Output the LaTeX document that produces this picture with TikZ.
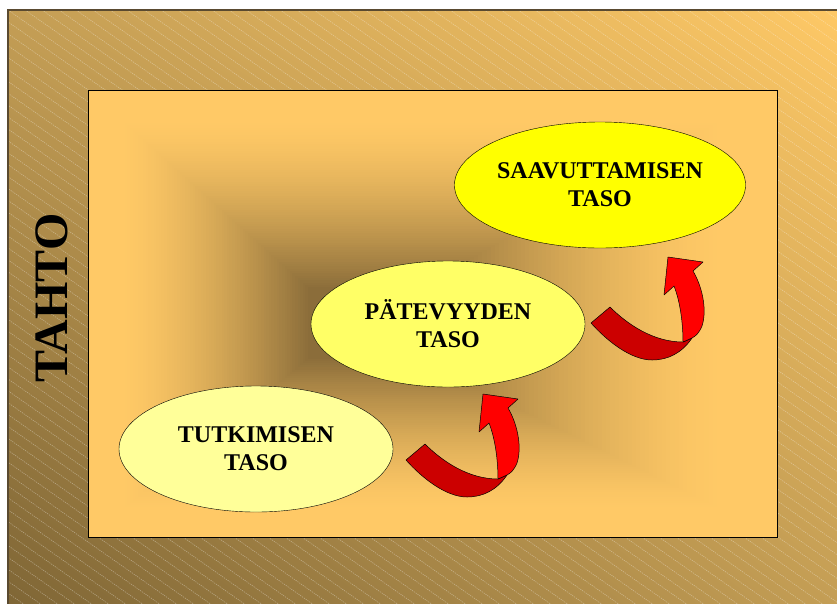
\documentclass[tikz,border=0pt]{standalone}
\usepackage{fontspec}
\setmainfont{Liberation Serif}
\usepackage{xcolor}
\usepackage{tikz}
\usetikzlibrary{shapes.geometric,shadings}

\definecolor{barkdark}{HTML}{7E6535}
\definecolor{barkmid}{HTML}{C49E55}
\definecolor{sand}{HTML}{FFC966}
\definecolor{core}{HTML}{8B6D3A}
\definecolor{framebrown}{HTML}{5A4A30}
\definecolor{ribbon}{HTML}{CC0000}
\definecolor{ribbonhi}{HTML}{FF0000}
\definecolor{levelA}{HTML}{FFFF99}
\definecolor{levelB}{HTML}{FFFF66}
\definecolor{levelC}{HTML}{FFFF00}

\tikzset{
  level/.style={ellipse, draw, thin, minimum width=274pt, minimum height=126pt,
    inner sep=0pt, align=center, font=\fontsize{24}{28}\selectfont\bfseries},
  hatch/.style={white, opacity=0.35, line width=0.6pt, dash pattern=on 1.2pt off 1pt},
  ribbonback/.style={fill=ribbon, draw=black, line width=0.5pt, line join=round},
  ribbonfront/.style={fill=ribbonhi, draw=black, line width=0.5pt, line join=round}
}

\begin{document}
\begin{tikzpicture}[x=1pt,y=-1pt,>=latex]
  \useasboundingbox (0,0) rectangle (837,603);
  \clip (0,0) rectangle (837,603);
  \fill[white] (0,0) rectangle (837,603);
% outer frame with the stripes
  \shade[lower left=barkdark, upper right=sand, upper left=barkmid, lower right=barkmid]
    (8,10) rectangle (850,615);
  \begin{scope}
    \clip (8,10) rectangle (850,615);
    \foreach \k in {-55,...,50} { \draw[hatch] (8+\k*17,10) -- ++(900,630); }
  \end{scope}
  \draw[framebrown, line width=1.2pt] (8,10) rectangle (850,615);
% inner panel, shaded towards a point left of the middle
  \foreach \i in {0,...,100} {
    \pgfmathsetmacro\ratio{\i/100}
    \pgfmathsetmacro\mix{100*(1-pow(min(1,max(0.001,(\ratio-0.12)/0.72)),1.5))}
    \fill[sand!\mix!core] ({350-262*(1-\ratio)},{325-235*(1-\ratio)})
      rectangle ({350+427*(1-\ratio)},{325+212*(1-\ratio)});
  }
  \draw[line width=1pt] (88,90) rectangle (777,537);

  \node[rotate=90, anchor=base, inner sep=0pt, font=\fontsize{48}{48}\selectfont\bfseries]
    (will) at (67,298) {TAHTO};

  \node[level, fill=levelA] (explore) at (256,449) {TUTKIMISEN\\TASO};
  \node[level, fill=levelB] (skill) at (448,324) {PÄTEVYYDEN\\TASO};
  \node[level, fill=levelC] (reach) at (600,185) {SAAVUTTAMISEN\\TASO};

% curved block arrows
  \foreach \dx/\dy in {0/0,185/-137} {
    \begin{scope}[shift={(\dx,\dy)}]
      \draw[ribbonback] (406,460) -- (425,444) .. controls (442,461) and (468,479) .. (498,479)
        -- (507,475) .. controls (497,490) and (483,497) .. (467,497)
        .. controls (446,497) and (422,478) .. cycle;
      \draw[ribbonfront] (498,479) .. controls (498,460) and (495,438) .. (489,423)
        -- (479,432) -- (483,394) -- (518,399) -- (508,408)
        .. controls (518,425) and (522,448) .. (517,463)
        .. controls (514,470) and (511,473) .. (507,475) -- cycle;
    \end{scope}
  }
\end{tikzpicture}
\end{document}
